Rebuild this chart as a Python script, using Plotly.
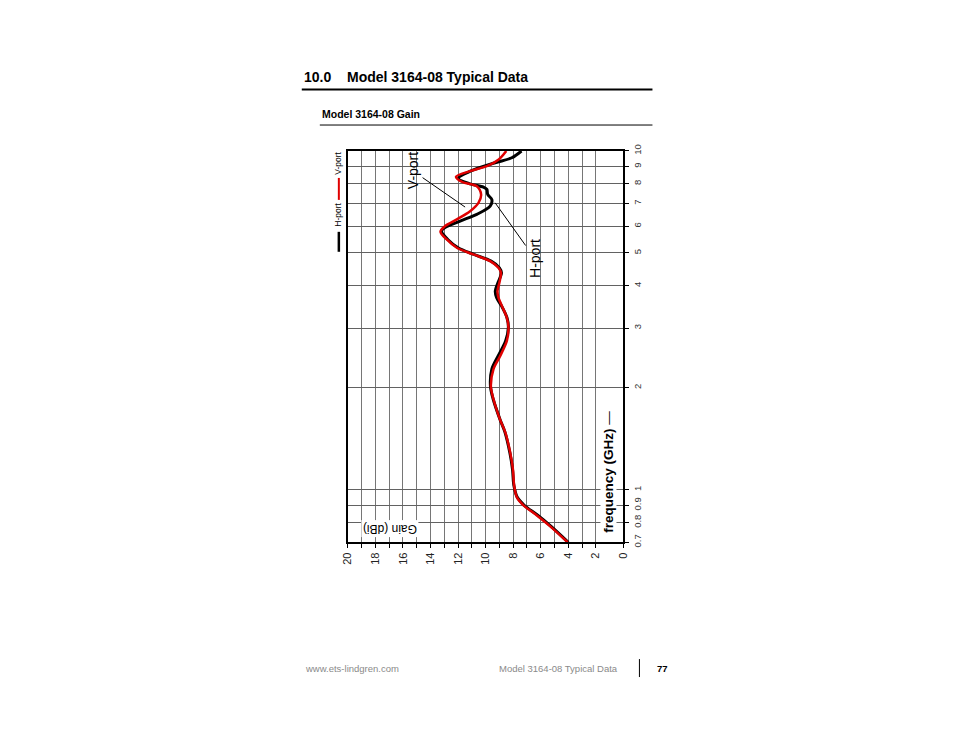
import numpy as np
import plotly.graph_objects as go

# ------------------------------------------------------------
# Gain data (frequency in GHz, gain in dBi)
# ------------------------------------------------------------
freq_v = [0.70, 0.78, 0.84, 0.90, 0.95, 1.03, 1.15, 1.29, 1.48, 1.61,
          1.85, 2.02, 2.27, 2.48, 2.75, 3.01, 3.22, 3.49, 3.69, 3.86,
          4.09, 4.37, 4.52, 4.73, 4.95, 5.18, 5.48, 5.78, 6.00, 6.28,
          6.64, 7.03, 7.44, 7.87, 8.10, 8.39, 8.72, 9.02, 9.44, 10.0]
gain_v = [4.05, 5.31, 6.28, 7.25, 7.73, 7.93, 8.02, 8.22, 8.58, 8.95,
          9.43, 9.62, 9.43, 8.95, 8.46, 8.34, 8.46, 8.82, 9.07, 9.14,
          9.00, 8.89, 9.07, 9.67, 10.89, 12.09, 12.82, 13.28, 12.95, 12.09,
          11.13, 10.52, 10.33, 10.64, 11.70, 12.15, 11.13, 9.91, 9.05, 8.50]

freq_h = [0.70, 0.78, 0.84, 0.90, 0.95, 1.03, 1.15, 1.29, 1.48, 1.61,
          1.85, 2.02, 2.27, 2.48, 2.75, 3.01, 3.22, 3.49, 3.69, 3.86,
          4.09, 4.37, 4.52, 4.73, 4.95, 5.18, 5.48, 5.80, 5.94, 6.21,
          6.50, 6.87, 7.19, 7.44, 7.70, 7.82, 8.00, 8.31, 8.72, 9.23,
          9.55, 10.0]
gain_h = [4.00, 5.25, 6.20, 7.20, 7.70, 7.95, 8.05, 8.25, 8.60, 8.95,
          9.45, 9.65, 9.55, 9.10, 8.55, 8.35, 8.45, 8.85, 9.20, 9.30,
          9.10, 8.85, 9.00, 9.60, 10.85, 12.00, 12.75, 13.20, 12.95, 11.85,
          10.64, 9.67, 9.55, 9.85, 9.91, 10.16, 11.13, 11.98, 11.10, 9.31,
          8.10, 7.40]

freq_ticks = [0.7, 0.8, 0.9, 1, 2, 3, 4, 5, 6, 7, 8, 9, 10]
freq_labels = ["0.7", "0.8", "0.9", "1", "2", "3", "4", "5", "6", "7", "8", "9", "10"]
gain_ticks = list(range(0, 21, 2))
gain_minor = list(range(3, 20, 2))

W, H = 954, 738
# screenshot places figure pixel p at about 0.9855 * (p + 15)
SCALE, OFF = 0.9855, 15
FONT = "Liberation Sans"
GRID = "#767676"


def px(x):
    return (x / SCALE - OFF) / W


def py(y):
    return 1 - (y / SCALE - OFF) / H


def page_text(x, y, text, size, color="#000", xanchor="center", angle=0, **kw):
    return dict(x=px(x), y=py(y), xref="paper", yref="paper", text=text,
                xanchor=xanchor, yanchor="middle", textangle=angle,
                showarrow=False, font=dict(family=FONT, size=size, color=color), **kw)


# ------------------------------------------------------------
# Curves (the page chart is rotated: gain runs right-to-left, frequency up)
# ------------------------------------------------------------
fig = go.Figure()
fig.add_trace(go.Scatter(
    x=gain_h, y=freq_h, mode="lines", name="H-port",
    line=dict(color="#000000", width=3, shape="spline", smoothing=0.9),
    showlegend=False, hoverinfo="skip"))
fig.add_trace(go.Scatter(
    x=gain_v, y=freq_v, mode="lines", name="V-port",
    line=dict(color="#e00000", width=2.5, shape="spline", smoothing=0.9),
    showlegend=False, hoverinfo="skip"))

fig.update_xaxes(
    domain=[px(348), px(623)],
    range=[20, 0], tickvals=gain_ticks, ticktext=[str(v) for v in gain_ticks],
    tickangle=-90, ticks="outside", ticklen=4, tickcolor="#000",
    tickfont=dict(family=FONT, size=11, color="#222"),
    showgrid=True, gridcolor=GRID, gridwidth=1,
    minor=dict(tickvals=gain_minor, showgrid=True, gridcolor=GRID, gridwidth=1,
               ticks="outside", ticklen=4, tickcolor="#000"),
    showline=True, mirror=True, linecolor="#000", linewidth=1.8,
    zeroline=False, fixedrange=True)

fig.update_yaxes(
    domain=[py(543), py(151)],
    type="log", range=[np.log10(0.7), 1], side="right",
    tickvals=freq_ticks, ticktext=freq_labels, tickangle=-90,
    ticks="outside", ticklen=4, tickcolor="#000",
    tickfont=dict(family=FONT, size=9.5, color="#333"),
    showgrid=True, gridcolor="#626262", gridwidth=1,
    showline=True, mirror=True, linecolor="#000", linewidth=1.8,
    zeroline=False, fixedrange=True)

# ------------------------------------------------------------
# Annotations: callouts, axis titles, legend, page header/footer
# ------------------------------------------------------------
ann = [
    # callouts
    dict(x=11.49, y=np.log10(6.83), xref="x", yref="y", text="V-port",
         textangle=-90, showarrow=True, arrowhead=0, arrowwidth=1,
         arrowcolor="#000", ax=-52, ay=-36,
         font=dict(family=FONT, size=14, color="#000")),
    dict(x=9.31, y=np.log10(7.03), xref="x", yref="y", text="H-port",
         textangle=-90, showarrow=True, arrowhead=0, arrowwidth=1,
         arrowcolor="#000", ax=40, ay=56,
         font=dict(family=FONT, size=14, color="#000")),
    # axis titles
    page_text(608, 472, "<b>frequency (GHz)</b> \u2014", 13.5, angle=-90,
              bgcolor="#ffffff", borderpad=0),
    page_text(390, 529, "Gain (dBi)", 12, angle=180,
              bgcolor="#ffffff", borderpad=1),
    # legend
    page_text(338, 163, "V-port", 8.5, angle=-90),
    page_text(338, 215, "H-port", 8.5, angle=-90),
    # page header
    page_text(302, 77, "<b>10.0</b>", 14, xanchor="left"),
    page_text(345, 77, "<b>Model 3164-08 Typical Data</b>", 14, xanchor="left"),
    page_text(320, 114, "<b>Model 3164-08 Gain</b>", 10.5, xanchor="left"),
    # page footer
    page_text(303, 669, "www.ets-lindgren.com", 9.5, color="#8a8a8a", xanchor="left"),
    page_text(497, 669, "Model 3164-08 Typical Data", 9.5, color="#8a8a8a", xanchor="left"),
    page_text(655, 669, "<b>77</b>", 9.5, xanchor="left"),
]

shapes = [
    # legend line samples
    dict(type="line", xref="paper", yref="paper", x0=px(339), x1=px(339),
         y0=py(178), y1=py(200), line=dict(color="#e00000", width=2)),
    dict(type="line", xref="paper", yref="paper", x0=px(339), x1=px(339),
         y0=py(232), y1=py(252), line=dict(color="#000", width=2.5)),
    # header rules
    dict(type="line", xref="paper", yref="paper", x0=px(302), x1=px(652),
         y0=py(89.5), y1=py(89.5), line=dict(color="#000", width=2)),
    dict(type="line", xref="paper", yref="paper", x0=px(320), x1=px(652),
         y0=py(125), y1=py(125), line=dict(color="#000", width=1)),
    # footer separator
    dict(type="line", xref="paper", yref="paper", x0=px(639), x1=px(639),
         y0=py(660), y1=py(678), line=dict(color="#000", width=1)),
]

fig.update_layout(
    width=W, height=H, autosize=False,
    margin=dict(l=0, r=0, t=0, b=0),
    paper_bgcolor="#ffffff", plot_bgcolor="#ffffff",
    annotations=ann, shapes=shapes,
    font=dict(family=FONT),
)

fig.write_html("out.html")
